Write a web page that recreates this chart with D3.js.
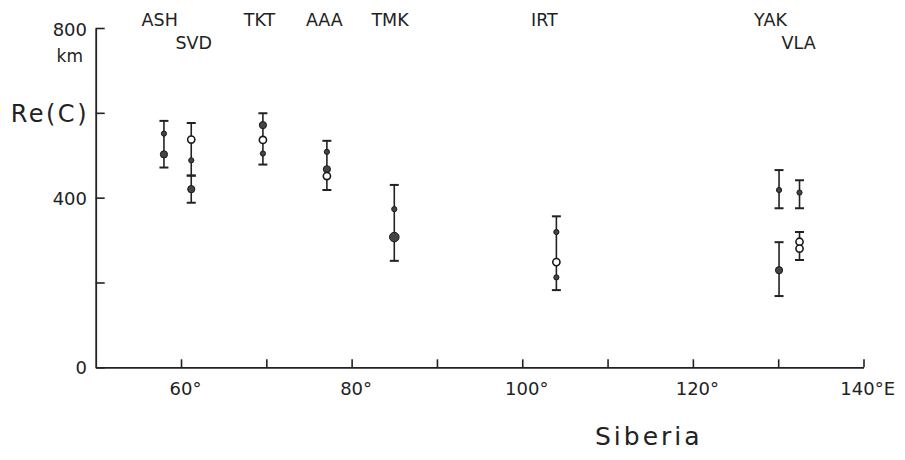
<!DOCTYPE html>
<html>
<head>
<meta charset="utf-8">
<script src="https://cdn.jsdelivr.net/npm/d3@7"></script>
<style>
  html, body { margin: 0; padding: 0; background: #fff; }
  svg text { font-family: "DejaVu Sans", sans-serif; fill: #222; }
</style>
</head>
<body>
<svg id="chart" width="905" height="460"></svg>
<script>
// ---------- data ----------
const stations   = ["ASH", "SVD", "TKT", "AAA", "TMK", "IRT", "YAK", "VLA"];
const longitudes = [58.0, 61.2, 69.6, 77.1, 85.0, 104.0, 130.1, 132.5];
const labelLon   = [57.5, 61.5, 69.2, 76.8, 84.5, 102.6, 129.1, 132.4];
const labelRow   = [0, 1, 0, 0, 0, 0, 0, 1];

// point estimates of Re(C) in km: [station, value, marker kind]
const points = [
  ["ASH", 551, "small"], ["ASH", 502, "mid"],
  ["SVD", 537, "open"],  ["SVD", 488, "small"], ["SVD", 420, "mid"],
  ["TKT", 571, "mid"],   ["TKT", 536, "open"],  ["TKT", 504, "small"],
  ["AAA", 508, "small"], ["AAA", 467, "mid"],   ["AAA", 451, "open"],
  ["TMK", 373, "small"], ["TMK", 307, "large"],
  ["IRT", 319, "small"], ["IRT", 248, "open"],  ["IRT", 212, "small"],
  ["YAK", 418, "small"], ["YAK", 229, "mid"],
  ["VLA", 412, "small"], ["VLA", 296, "open"],  ["VLA", 280, "open"]
];

// error bars: [station, low, high]
const errorBars = [
  ["ASH", 471, 581],
  ["SVD", 452, 576], ["SVD", 388, 452],
  ["TKT", 478, 599],
  ["AAA", 418, 534],
  ["TMK", 251, 430],
  ["IRT", 182, 356],
  ["YAK", 375, 465], ["YAK", 168, 295],
  ["VLA", 375, 441], ["VLA", 253, 319]
];

const xTickValues = [60, 70, 80, 90, 100, 110, 120, 130, 140];
const xLabelValues = [60, 80, 100, 120, 140];
const xLabelNums   = ["60", "80", "100", "120", "140"];
const xLabelSuffix = ["°", "°", "°", "°", "°E"];
const yTickValues = [0, 200, 400, 600, 800];

// ---------- layout ----------
const svg = d3.select("#chart");
const x = d3.scaleLinear().domain([50, 140]).range([95.7, 863.5]);
const y = d3.scaleLinear().domain([0, 800]).range([367.3, 28]);
const lonOf = s => longitudes[stations.indexOf(s)];
const ink = "#222";

// axes
const xAxis = d3.axisBottom(x).tickValues(xTickValues)
  .tickSizeInner(-8).tickSizeOuter(0).tickFormat("");
const gx = svg.append("g").attr("transform", `translate(0,${y(0)})`).call(xAxis);
const yAxis = d3.axisLeft(y).tickValues(yTickValues)
  .tickSizeInner(-9).tickSizeOuter(0).tickFormat("");
const gy = svg.append("g").attr("transform", `translate(${x(50)},0)`).call(yAxis);
[gx, gy].forEach(g => {
  g.select(".domain").attr("stroke", ink).attr("stroke-width", 1.8);
  g.selectAll(".tick line").attr("stroke", ink).attr("stroke-width", 1.6);
});

// x tick labels: number centred on tick, suffix after it
xLabelValues.forEach((v, i) => {
  const t = svg.append("text").attr("y", 395).attr("font-size", 18);
  t.append("tspan").attr("class", "num").text(xLabelNums[i]);
  const w = t.select(".num").node().getComputedTextLength();
  t.attr("x", x(v) - w / 2 + (v === 140 ? -6 : 0));
  t.append("tspan").text(xLabelSuffix[i]);
});

// y tick labels
const yLab = (txt, v, dy, size) => svg.append("text")
  .attr("x", 87).attr("y", y(v) + dy).attr("text-anchor", "end")
  .attr("font-size", size).text(txt);
yLab("800", 800, 8, 18);
yLab("400", 400, 7, 18);
yLab("0", 0, 7, 18);
svg.append("text").attr("x", 83).attr("y", 62).attr("text-anchor", "end")
  .attr("font-size", 17).text("km");
svg.append("text").attr("x", 89).attr("y", y(600) + 9).attr("text-anchor", "end")
  .attr("font-size", 24).attr("letter-spacing", 2.5).text("Re(C)");

// x title
svg.append("text").attr("x", 595).attr("y", 445)
  .attr("font-size", 25).attr("letter-spacing", 3).text("Siberia");

// station labels
svg.append("g").selectAll("text").data(stations).join("text")
  .attr("x", (d, i) => x(labelLon[i]))
  .attr("y", (d, i) => labelRow[i] ? 49 : 26)
  .attr("text-anchor", "middle").attr("font-size", 17.5)
  .text(d => d);

// error bars
const eb = svg.append("g").attr("stroke", ink).attr("stroke-width", 1.6);
errorBars.forEach(([s, lo, hi]) => {
  const cx = x(lonOf(s));
  eb.append("line").attr("x1", cx).attr("x2", cx).attr("y1", y(lo)).attr("y2", y(hi));
  [lo, hi].forEach(v => eb.append("line")
    .attr("x1", cx - 4.5).attr("x2", cx + 4.5).attr("y1", y(v)).attr("y2", y(v))
    .attr("stroke-width", 2));
});

// points
const radius = { small: 2.6, mid: 3.6, large: 4.8, open: 3.6 };
svg.append("g").selectAll("circle").data(points).join("circle")
  .attr("cx", d => x(lonOf(d[0])))
  .attr("cy", d => y(d[1]))
  .attr("r", d => radius[d[2]])
  .attr("fill", d => d[2] === "open" ? "#fff" : "#444")
  .attr("stroke", "#1a1a1a")
  .attr("stroke-width", d => d[2] === "open" ? 1.6 : 1);
</script>
</body>
</html>
